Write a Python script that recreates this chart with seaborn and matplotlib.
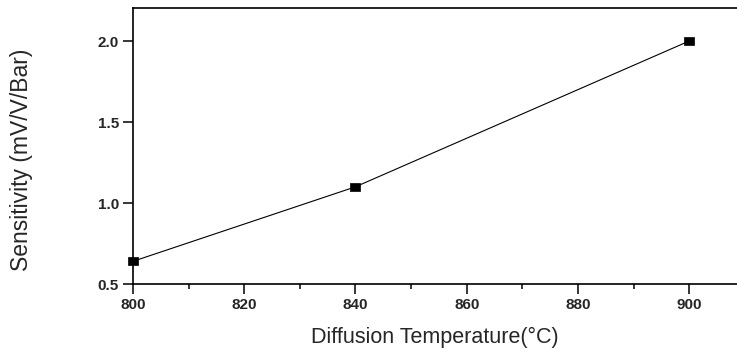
import numpy as np
import pandas as pd
import matplotlib
matplotlib.use("Agg")
import matplotlib.pyplot as plt
from matplotlib.ticker import MultipleLocator
import seaborn as sns

temperature = [800, 840, 900]
sensitivity = [0.64, 1.10, 2.00]

x_ticks = [800, 820, 840, 860, 880, 900]
y_ticks = [0.5, 1.0, 1.5, 2.0]

df = pd.DataFrame({"temperature": temperature, "sensitivity": sensitivity})

sns.set_style("ticks")
plt.rcParams["font.family"] = ["Liberation Sans", "DejaVu Sans"]

fig = plt.figure(figsize=(7.37, 3.58), dpi=100)
ax = fig.add_axes([133 / 737, 74 / 358, 604 / 737, 276 / 358])

# wide, flat square markers as in the original
rect = [(-1.45, -1.0), (1.45, -1.0), (1.45, 1.0), (-1.45, 1.0), (-1.45, -1.0)]
sns.lineplot(data=df, x="temperature", y="sensitivity", ax=ax, color="black",
             linewidth=0.8, marker=rect, markersize=7.5, markeredgecolor="black",
             markerfacecolor="black", markeredgewidth=0.5, clip_on=False)

ax.set_xlim(800, 908.6)
ax.set_ylim(0.5, 2.204)
ax.set_xticks(x_ticks)
ax.set_yticks(y_ticks)
ax.xaxis.set_minor_locator(MultipleLocator(10))
ax.set_xticklabels([str(t) for t in x_ticks], fontweight="bold", fontsize=11)
ax.set_yticklabels([f"{t:.1f}" for t in y_ticks], fontweight="bold", fontsize=11)

ax.tick_params(axis="both", which="major", direction="out", length=7, width=1.1,
               color="black", pad=3)
ax.tick_params(axis="x", which="minor", direction="out", length=3.5, width=1.1,
               color="black")

for side in ["left", "top", "bottom"]:
    ax.spines[side].set_color("black")
    ax.spines[side].set_linewidth(1.2)
ax.spines["right"].set_visible(False)

ax.set_xlabel("Diffusion Temperature(°C)", fontsize=15.5)
ax.set_ylabel("Sensitivity (mV/V/Bar)", fontsize=16.5)
ax.xaxis.set_label_coords(0.5, -0.155)
ax.yaxis.set_label_coords(-0.166, 0.45)
ax.xaxis.label.set_va("top")

fig.savefig("out.png", dpi=100)
